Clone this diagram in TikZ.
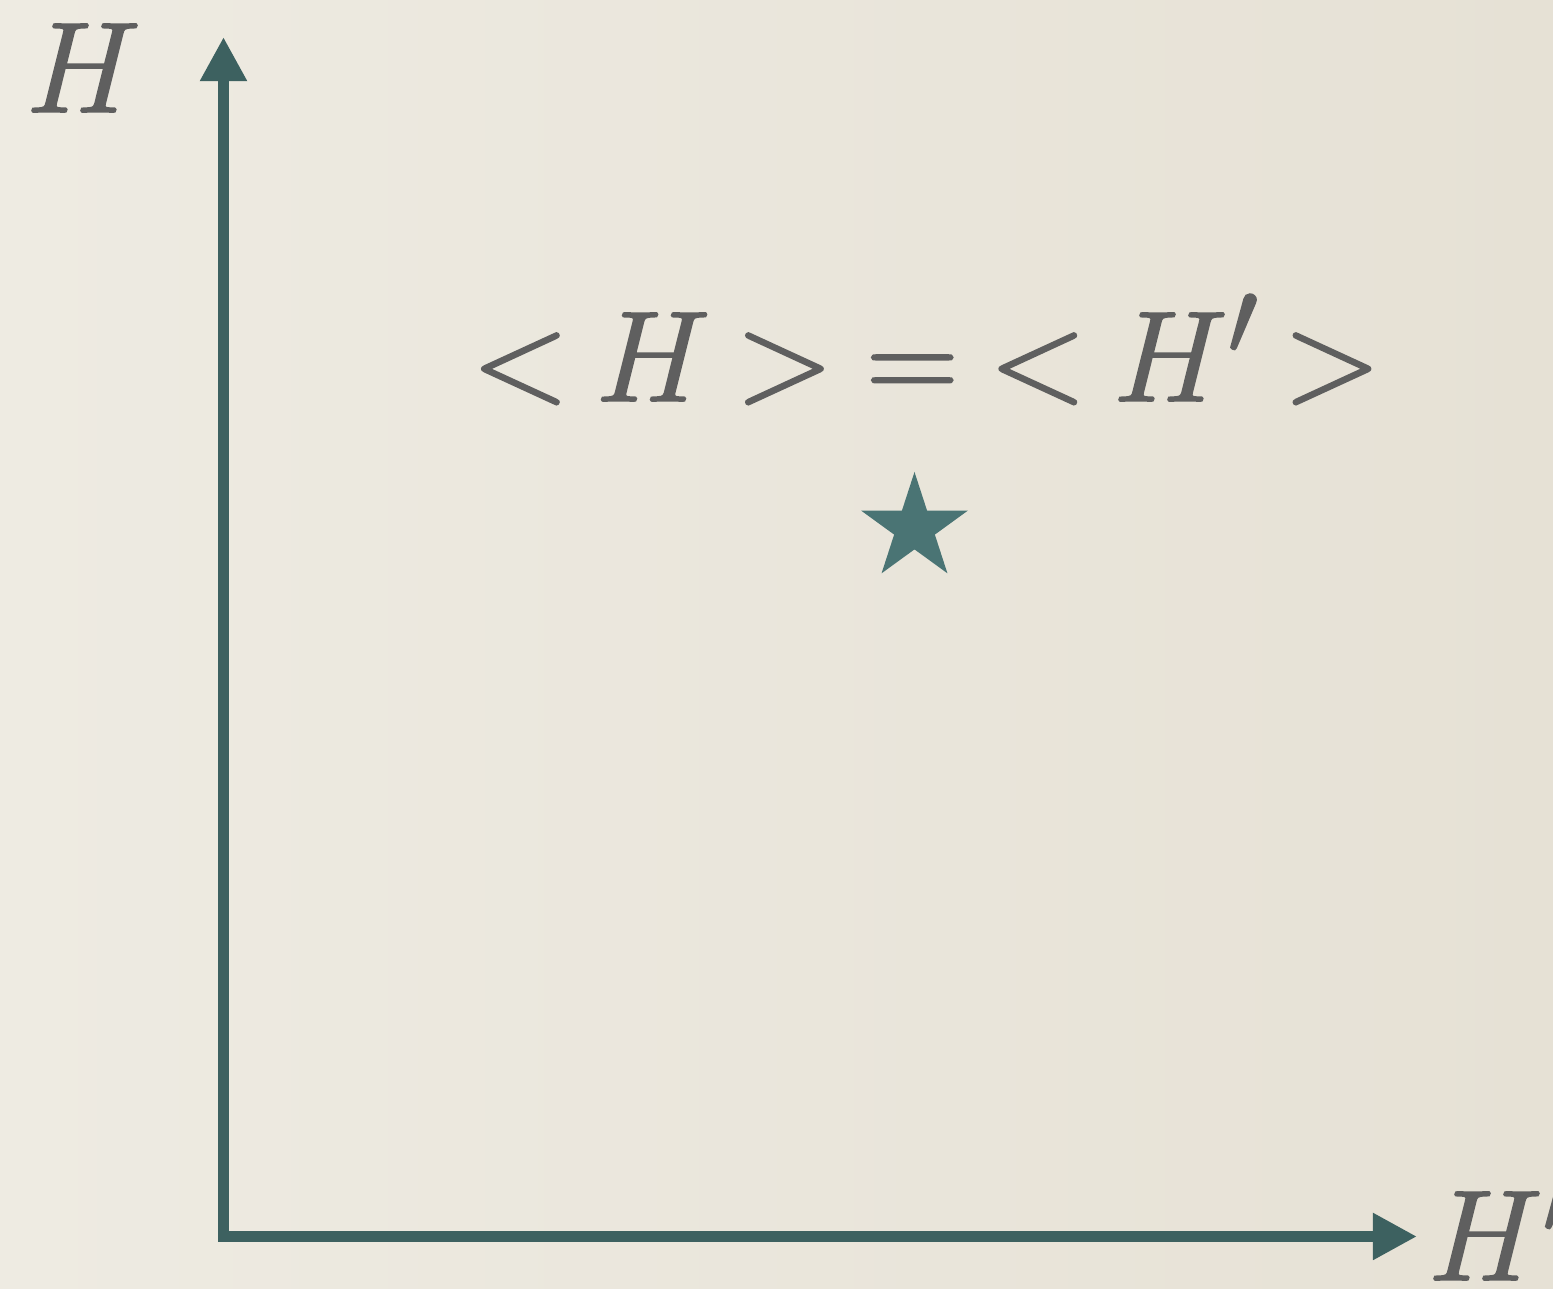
\documentclass[tikz,border=0pt]{standalone}
\usepackage{tikz}
\usetikzlibrary{arrows.meta, shapes.geometric}
\definecolor{paperdark}{HTML}{E6E1D5}
\definecolor{paperlight}{HTML}{EEEBE2}
\definecolor{axisteal}{HTML}{3D6160}
\definecolor{starteal}{HTML}{4A7474}
\definecolor{inkgrey}{HTML}{5F5F5F}
% glyphs filled and stroked, so they come out heavier
\newcommand{\heavy}[1]{\special{pdf:literal direct 2 Tr 0.35 w}#1\special{pdf:literal direct 0 Tr}}

\begin{document}
\begin{tikzpicture}[
    x=0.01cm, y=-0.01cm,
    axis/.style={draw=axisteal, line width=0.11cm, line cap=rect, -{Triangle[length=0.44cm, width=0.44cm]}},
    lbl/.style={inner sep=0pt, text=inkgrey, font=\Huge, scale=1.473, transform shape},
    starpt/.style={star, star points=5, star point ratio=2.618, minimum size=1.12cm, inner sep=0pt, fill=starteal},
]
  % Background
  \useasboundingbox (0,0) rectangle (1553,1289);
  \shade[left color=paperlight, right color=paperdark] (0,0) rectangle (1553,1289);

  % Axes
  \coordinate (origin) at (223.5,1236.5);
  \coordinate (ytip) at (223.5,37);
  \coordinate (xtip) at (1417,1236.5);
  \draw[axis] (origin) -- (ytip);
  \draw[axis] (origin) -- (xtip);

  % Axis labels
  \node[lbl, anchor=base west] (ylabel) at (25.2,112) {\heavy{$H$}};
  \node[lbl, anchor=base west] (xlabel) at (1427.2,1280) {\heavy{$H'$}};

  % Equality and the point
  \node[lbl, anchor=base west] (eq) at (470.3,401)
    {\heavy{$\mathord{<}\mkern3.7mu H\mkern3.5mu\mathord{>}\mkern4.5mu\mathord{=}\mkern4.2mu\mathord{<}\mkern3.7mu H'\mkern3.2mu\mathord{>}$}};
  \node[starpt] (pt) at (914.5,528) {};
\end{tikzpicture}
\end{document}
